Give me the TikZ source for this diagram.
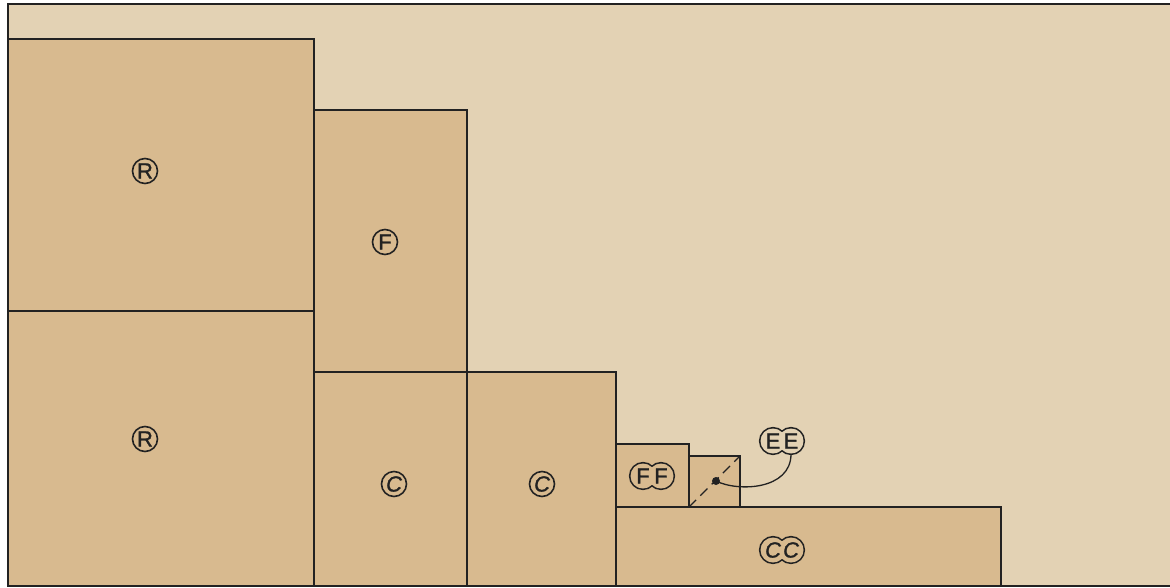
\documentclass[tikz,border=0pt]{standalone}
\usepackage{fontspec}
\setmainfont{Liberation Sans}
\newfontfamily\lblfont[FakeBold=1.2]{Liberation Sans}
\definecolor{bgtan}{HTML}{E3D2B4}
\definecolor{boxtan}{HTML}{D8BA8F}
\definecolor{ink}{HTML}{222222}
\begin{document}
\begin{tikzpicture}[x=1pt,y=-1pt,
  box/.style={draw=ink,line width=1.4pt,fill=boxtan,rectangle,inner sep=0pt,outer sep=0pt,anchor=north west},
  lbl/.style={font=\lblfont\fontsize{22}{22}\selectfont,text=ink,inner sep=0pt},
  ring/.style={draw=ink,line width=1.6pt,circle,minimum size=25pt,inner sep=0pt},
]
\useasboundingbox (0,0) rectangle (1170,587);
% outer frame
\fill[bgtan] (8,4) rectangle (1170,586);
\draw[ink,line width=1.4pt] (1170,4) -- (8,4) -- (8,586) -- (1170,586);
% boxes
\node[box,minimum width=306pt,minimum height=272pt] (rtop) at (8,39) {};
\node[box,minimum width=306pt,minimum height=275pt] (rbot) at (8,311) {};
\node[box,minimum width=153pt,minimum height=262pt] (f) at (314,110) {};
\node[box,minimum width=153pt,minimum height=214pt] (c1) at (314,372) {};
\node[box,minimum width=149pt,minimum height=214pt] (c2) at (467,372) {};
\node[box,minimum width=73pt,minimum height=63pt] (ff) at (616,444) {};
\node[box,minimum width=51pt,minimum height=51pt] (ee) at (689,456) {};
\node[box,minimum width=385pt,minimum height=79pt] (cc) at (616,507) {};
% single circled labels
\node[ring,lbl] (lr1) at (145,171) {R};
\node[ring,lbl] (lr2) at (145,439) {R};
\node[ring,lbl] (lf) at (385,242) {F};
\node[ring,lbl] (lc1) at (394,484) {\itshape C};
\node[ring,lbl] (lc2) at (542,484) {\itshape C};
% double circled labels
\newcommand{\dblring}[5]{%
  \draw[ink,line width=3.2pt] (#1-9,#2) circle (12.5) (#1+9,#2) circle (12.5);
  \fill[#3] (#1-9,#2) circle (12.5) (#1+9,#2) circle (12.5);
  \node[lbl] (#4a) at (#1-9,#2) {#5};
  \node[lbl] (#4b) at (#1+9,#2) {#5};
}
\dblring{652}{476}{boxtan}{lff}{F}
\dblring{782}{441}{bgtan}{lee}{E}
\dblring{782}{550}{boxtan}{lcc}{\itshape C}
% diagonal and pointer
\draw[ink,line width=1.3pt,dash pattern=on 10pt off 6pt] (ee.south west) -- (ee.north east);
\coordinate (dot) at (716,481);
\fill[ink] (dot) circle (4);
\coordinate (eeend) at (791,454);
\draw[ink,line width=1.3pt] (dot) .. controls (738,492) and (791,490) .. (eeend);
\end{tikzpicture}
\end{document}
